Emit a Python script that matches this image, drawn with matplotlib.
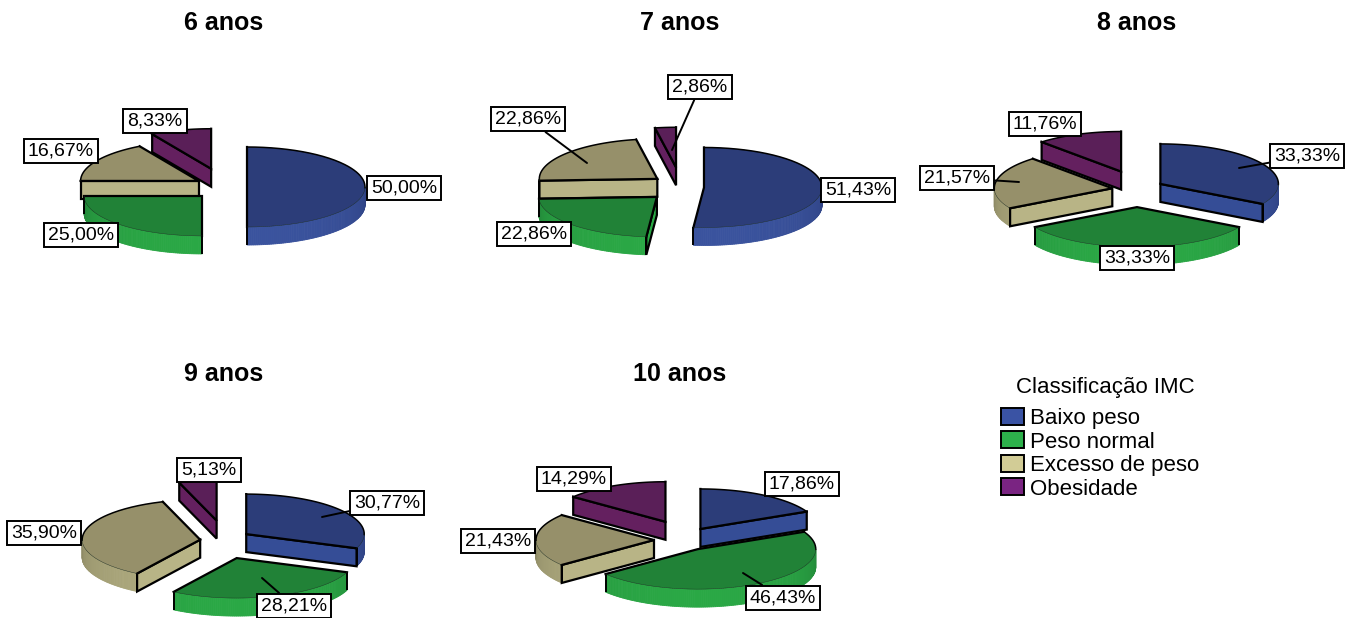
#!/usr/bin/env python

import numpy as np
import matplotlib
matplotlib.use("Agg")
import matplotlib.pyplot as plt
from matplotlib.patches import Patch, Polygon

plt.rcParams["font.family"] = ["Liberation Sans", "DejaVu Sans"]

# Share of each BMI class per age group (%)
categories = ["Baixo peso", "Peso normal", "Excesso de peso", "Obesidade"]
ages = ["6 anos", "7 anos", "8 anos", "9 anos", "10 anos"]
values_6 = [50.00, 25.00, 16.67, 8.33]
values_7 = [51.43, 22.86, 22.86, 2.86]
values_8 = [33.33, 33.33, 21.57, 11.76]
values_9 = [30.77, 28.21, 35.90, 5.13]
values_10 = [17.86, 46.43, 21.43, 14.29]
all_values = [values_6, values_7, values_8, values_9, values_10]

# Colours per class: legend, lit wall, shaded wall, top face, cut face
legend_colors = ["#3a53a4", "#2db14b", "#d2cc96", "#7a2482"]
wall_light = ["#3a539e", "#2aa845", "#aeaa7e", "#65215f"]
wall_dark = ["#2d3f7e", "#218237", "#8d8965", "#551f55"]
top_colors = ["#2c3d79", "#218237", "#96906a", "#5a1f58"]
face_colors = ["#354d96", "#2aa845", "#b8b486", "#64205f"]

# Layout in pixels
RX, RY, DEPTH = 118, 40, 18
EXPLODE_Y = 0.45
centers = [(222, 187), (680, 187), (1137, 190), (224, 541), (685, 540)]
explodes = [
    [25, 28, 27, 42],
    [24, 32, 29, 44],
    [27, 38, 25, 44],
    [27, 40, 24, 46],
    [29, 24, 31, 45],
]
title_pos = [(224, 23), (680, 23), (1137, 23), (224, 374), (680, 374)]

# Label box centres and, where a leader is drawn, the point it goes to
label_pos = [
    [(404, 188), (81, 235), (61, 151), (155, 121)],
    [(858, 190), (534, 234), (528, 119), (700, 87)],
    [(1307, 156), (1137, 258), (957, 178), (1045, 124)],
    [(387, 503), (294, 606), (44, 533), (209, 470)],
    [(802, 484), (783, 598), (498, 541), (574, 479)],
]
leaders = [
    [None, None, None, None],
    [None, None, (587, 163), (672, 150)],
    [(1239, 168), None, (1019, 182), None],
    [(322, 517), (262, 578), None, None],
    [None, (743, 573), None, None],
]
# Slices are painted back to front in this order
paint_order = [2, 3, 1, 0]


def rim(ax_, ay_, theta):
    # theta runs clockwise from 12 o'clock, in radians
    return ax_ + RX * np.sin(theta), ay_ - RY * np.cos(theta)


def draw_slice(ax, cx, cy, start, end, explode, idx):
    mid = (start + end) / 2
    ox = cx + explode * np.sin(mid)
    oy = cy - explode * np.cos(mid) * EXPLODE_Y
    angles = np.linspace(start, end, max(int(np.degrees(end - start)), 2) + 1)
    rx_pts, ry_pts = rim(ox, oy, angles)

    # outer wall, only the part facing the viewer
    light = np.array(matplotlib.colors.to_rgb(wall_light[idx]))
    dark = np.array(matplotlib.colors.to_rgb(wall_dark[idx]))
    for i in range(len(angles) - 1):
        a = (angles[i] + angles[i + 1]) / 2
        if np.cos(a) < 0:
            t = min(1, (-np.cos(a)) ** 0.6)
            col = dark + (light - dark) * t
            quad = [(rx_pts[i], ry_pts[i]), (rx_pts[i + 1], ry_pts[i + 1]),
                    (rx_pts[i + 1], ry_pts[i + 1] + DEPTH), (rx_pts[i], ry_pts[i] + DEPTH)]
            ax.add_patch(Polygon(quad, closed=True, facecolor=col, edgecolor=col, lw=0.6))

    # cut faces that turn towards the viewer
    for theta, visible in ((start, np.sin(start) < -1e-6), (end, np.sin(end) > 1e-6)):
        if visible:
            px, py = rim(ox, oy, theta)
            face = [(ox, oy), (px, py), (px, py + DEPTH), (ox, oy + DEPTH)]
            ax.add_patch(Polygon(face, closed=True, facecolor=face_colors[idx],
                                 edgecolor="black", lw=1.6, joinstyle="miter"))

    # vertical wall edges at the slice ends
    for theta in (start, end):
        if np.cos(theta) < 1e-6:
            px, py = rim(ox, oy, theta)
            ax.plot([px, px], [py, py + DEPTH], color="black", lw=1.4, solid_capstyle="butt")

    # top face
    top = [(ox, oy)] + list(zip(rx_pts, ry_pts))
    ax.add_patch(Polygon(top, closed=True, facecolor=top_colors[idx], edgecolor="none"))

    # black outline on the radial edges and the back of the rim
    px0, py0 = rim(ox, oy, start)
    px1, py1 = rim(ox, oy, end)
    ax.plot([px0, ox, px1], [py0, oy, py1], color="black", lw=1.6, solid_joinstyle="miter")
    back = np.cos(angles) >= -0.02
    ax.plot(np.where(back, rx_pts, np.nan), np.where(back, ry_pts, np.nan), color="black", lw=1.1)
    front = np.cos(angles) <= 0.02
    ax.plot(np.where(front, rx_pts, np.nan), np.where(front, ry_pts, np.nan), color="#1a2a20", lw=0.3)


fig = plt.figure(figsize=(13.58, 6.18), dpi=100)
ax = fig.add_axes([0, 0, 1, 1])
ax.set_xlim(0, 1358)
ax.set_ylim(618, 0)
ax.axis("off")

for p, values in enumerate(all_values):
    cx, cy = centers[p]
    edges = np.radians(np.cumsum([0] + values) / np.sum(values) * 360)
    for idx in paint_order:
        draw_slice(ax, cx, cy, edges[idx], edges[idx + 1], explodes[p][idx], idx)

    for idx, v in enumerate(values):
        text = f"{v:.2f}".replace(".", ",") + "%"
        box = dict(boxstyle="square,pad=0.2", facecolor="white", edgecolor="black", lw=1.4)
        lx, ly = label_pos[p][idx]
        if leaders[p][idx] is None:
            ax.text(lx, ly, text, fontsize=14, ha="center", va="center", bbox=box, zorder=10)
        else:
            ax.annotate(text, xy=leaders[p][idx], xytext=(lx, ly), fontsize=14,
                        ha="center", va="center", bbox=box, zorder=10,
                        arrowprops=dict(arrowstyle="-", color="black", lw=1.4, shrinkA=0, shrinkB=0))

    tx, ty = title_pos[p]
    ax.text(tx, ty, ages[p], fontsize=18, fontweight="bold", ha="center", va="center")

handles = [Patch(facecolor=c, edgecolor="black", lw=1.4) for c in legend_colors]
ax.legend(handles, categories, loc="upper left",
          bbox_to_anchor=(981, 388), bbox_transform=ax.transData, frameon=False,
          fontsize=16, handlelength=1.05, handleheight=0.8,
          labelspacing=0.1, handletextpad=0.25, borderpad=0.4)
ax.text(1105, 387, "Classificação IMC", fontsize=16, ha="center", va="center")

fig.savefig("out.png", dpi=100)
